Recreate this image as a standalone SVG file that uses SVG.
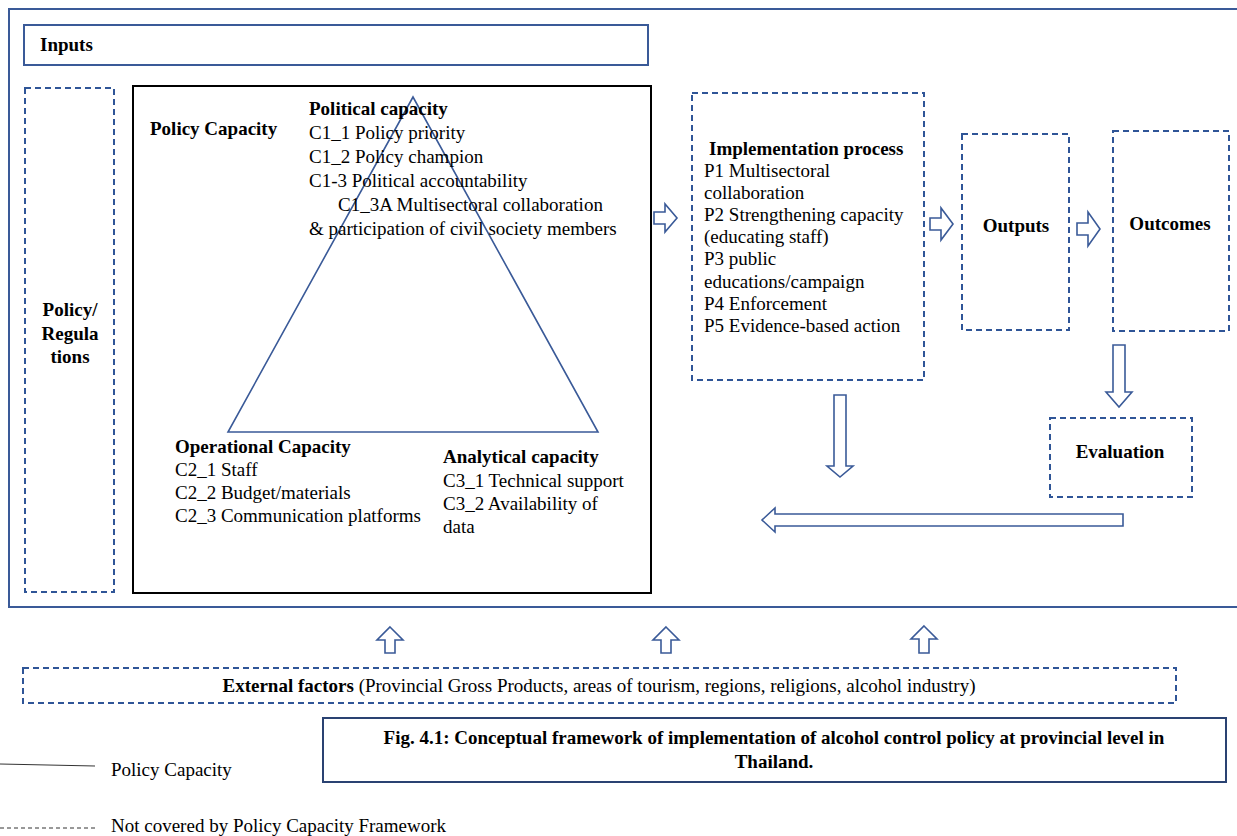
<svg xmlns="http://www.w3.org/2000/svg" width="1237" height="836" viewBox="0 0 1237 836" font-family="'Liberation Serif', 'DejaVu Serif', serif">
<style>
text{font-family:'Liberation Serif','DejaVu Serif',serif}
.t{font-size:19px;fill:#000}
.b{font-weight:bold}
.solid{fill:none;stroke:#3a5a98;stroke-width:2}
.dash{fill:none;stroke:#2f5597;stroke-width:2;stroke-dasharray:6 4}
.arr{fill:#fff;stroke:#3a5a98;stroke-width:1.6;stroke-linejoin:miter}
</style>
<rect width="1237" height="836" fill="#fff"/>
<g id="frame"><rect x="9" y="9" width="1240" height="598" class="solid"/></g>
<g id="inputs"><rect x="24" y="25" width="624" height="40" class="solid"/><text x="40" y="51" class="t b">Inputs</text></g>
<g id="policy-regulations"><rect x="25" y="88" width="89" height="504" class="dash"/>
<text x="70" y="316" class="t b" text-anchor="middle">Policy/</text>
<text x="70" y="340" class="t b" text-anchor="middle">Regula</text>
<text x="70" y="363" class="t b" text-anchor="middle">tions</text></g>
<g id="policy-capacity">
<rect x="133" y="86" width="518" height="507" fill="none" stroke="#000" stroke-width="2"/>
<polygon points="413,97 228,432 598,432" fill="none" stroke="#3a5a98" stroke-width="1.6"/>
<text x="150" y="135" class="t b">Policy Capacity</text>
<text x="309" y="115" class="t b">Political capacity</text>
<text x="309" y="139" class="t">C1_1 Policy priority</text>
<text x="309" y="163" class="t">C1_2 Policy champion</text>
<text x="309" y="187" class="t">C1-3 Political accountability</text>
<text x="338" y="211" class="t">C1_3A Multisectoral collaboration</text>
<text x="309" y="235" class="t">&amp; participation of civil society members</text>
<text x="175" y="453" class="t b">Operational Capacity</text>
<text x="175" y="476" class="t">C2_1 Staff</text>
<text x="175" y="499" class="t">C2_2 Budget/materials</text>
<text x="175" y="522" class="t">C2_3 Communication platforms</text>
<text x="443" y="463" class="t b">Analytical capacity</text>
<text x="443" y="487" class="t">C3_1 Technical support</text>
<text x="443" y="510" class="t">C3_2 Availability of</text>
<text x="443" y="533" class="t">data</text>
</g>
<g id="implementation"><rect x="692" y="93" width="232" height="287" class="dash"/>
<text x="709" y="155" class="t b">Implementation process</text>
<text x="704" y="177" class="t">P1 Multisectoral</text>
<text x="704" y="199" class="t">collaboration</text>
<text x="704" y="221" class="t">P2 Strengthening capacity</text>
<text x="704" y="243" class="t">(educating staff)</text>
<text x="704" y="265" class="t">P3 public</text>
<text x="704" y="288" class="t">educations/campaign</text>
<text x="704" y="310" class="t">P4 Enforcement</text>
<text x="704" y="332" class="t">P5 Evidence-based action</text></g>
<g id="outputs"><rect x="962" y="134" width="107" height="196" class="dash"/><text x="1016" y="232" class="t b" text-anchor="middle">Outputs</text></g>
<g id="outcomes"><rect x="1113" y="131" width="116" height="200" class="dash"/><text x="1170" y="230" class="t b" text-anchor="middle">Outcomes</text></g>
<g id="evaluation"><rect x="1050" y="418" width="142" height="79" class="dash"/><text x="1120" y="458" class="t b" text-anchor="middle">Evaluation</text></g>
<g id="external"><rect x="23" y="668" width="1153" height="35" class="dash"/>
<text x="599" y="692" class="t" font-size="18" text-anchor="middle"><tspan class="b">External factors</tspan> (Provincial Gross Products, areas of tourism, regions, religions, alcohol industry)</text></g>
<g id="connectors">
<polygon class="arr" points="654,212 665,212 665,204 677,218 665,232 665,224 654,224"/>
<polygon class="arr" points="930,218 941,218 941,208 953,224 941,240 941,230 930,230"/>
<polygon class="arr" points="1077,223 1088,223 1088,212 1100,229 1088,246 1088,235 1077,235"/>
<polygon class="arr" points="1113,345 1125,345 1125,392 1132,392 1119,407 1106,392 1113,392"/>
<polygon class="arr" points="834,395 846,395 846,466 853,466 840,477 827,466 834,466"/>
<polygon class="arr" points="1123,514 1123,526 775,526 775,532 762,520 775,508 775,514"/>
<polygon class="arr" points="390,627 403,640 395,640 395,653 385,653 385,640 377,640"/>
<polygon class="arr" points="666,627 679,640 671,640 671,653 661,653 661,640 653,640"/>
<polygon class="arr" points="924,626 937,639 929,639 929,653 919,653 919,639 911,639"/>
</g>
<g id="caption"><rect x="323" y="718" width="903" height="64" fill="none" stroke="#2a4272" stroke-width="2"/>
<text x="774" y="744" class="t b" font-size="17" text-anchor="middle">Fig. 4.1: Conceptual framework of implementation of alcohol control policy at provincial level in</text>
<text x="774" y="768" class="t b" font-size="17" text-anchor="middle">Thailand.</text></g>
<g id="legend">
<line x1="0" y1="764" x2="95" y2="766" stroke="#333" stroke-width="1"/>
<text x="111" y="776" class="t" font-size="18">Policy Capacity</text>
<line x1="0" y1="828" x2="95" y2="828" stroke="#333" stroke-width="1" stroke-dasharray="4 3"/>
<text x="111" y="832" class="t" font-size="18">Not covered by Policy Capacity Framework</text>
</g>
</svg>
